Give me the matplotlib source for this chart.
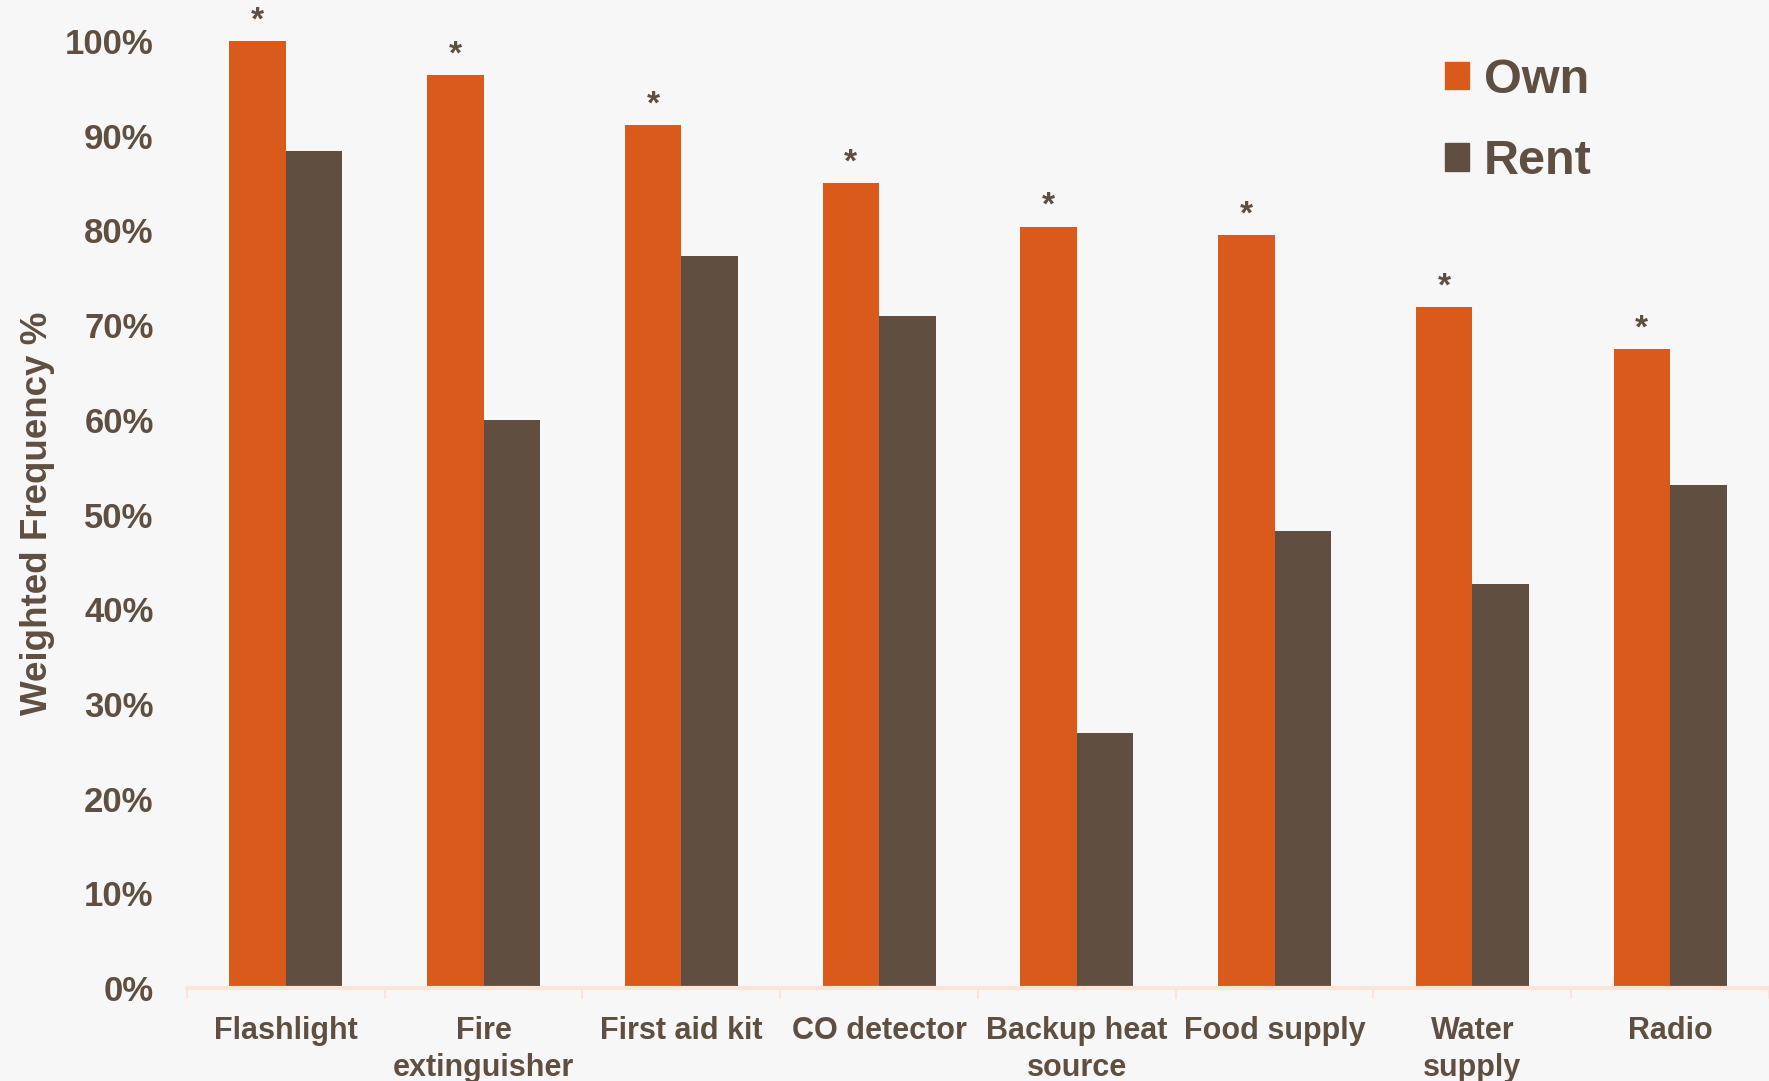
import matplotlib
matplotlib.use("Agg")
import matplotlib.pyplot as plt
from matplotlib.patches import Patch
import numpy as np

categories = ["Flashlight", "Fire\nextinguisher", "First aid kit", "CO detector",
              "Backup heat\nsource", "Food supply", "Water\nsupply", "Radio"]
own = [100.0, 96.4, 91.1, 85.0, 80.4, 79.5, 71.9, 67.5]
rent = [88.4, 60.0, 77.3, 71.0, 26.9, 48.3, 42.7, 53.1]
stars = ["*"] * 8

own_color = "#D95A1A"
rent_color = "#604F41"
text_color = "#5F4F41"
bg = "#F7F7F7"

plt.rcParams['font.family'] = ['Liberation Sans', 'DejaVu Sans']
plt.rcParams['font.weight'] = 'bold'

fig = plt.figure(figsize=(17.69, 10.81), dpi=100, facecolor=bg)
ax = fig.add_axes([0.1057, 0.086, 0.8943, 0.876])
ax.set_facecolor(bg)

x = np.arange(len(categories))
w = 0.2857
ax.bar(x - w / 2, own, w, color=own_color, label="Own", zorder=2)
ax.bar(x + w / 2, rent, w, color=rent_color, label="Rent", zorder=2)

for xi, v, s in zip(x, own, stars):
    ax.text(xi - w / 2, v + 0.5, s, ha="center", va="bottom", fontsize=24,
            color=text_color, clip_on=False)

ax.set_xlim(-0.5, len(categories) - 0.5)
ax.set_ylim(0, 100)
ax.set_yticks(np.arange(0, 101, 10))
ax.set_yticklabels([f"{v}%" for v in range(0, 101, 10)], fontsize=25, color=text_color)
ax.tick_params(axis="y", length=0, pad=24)

ax.set_xticks(x)
ax.set_xticklabels(categories, fontsize=22, color=text_color, linespacing=1.3)
ax.tick_params(axis="x", which="major", length=0, pad=20)
ax.set_xticks(np.arange(-0.5, len(categories), 1.0), minor=True)
ax.tick_params(axis="x", which="minor", length=8, width=1.5, color="#FCE4D6", direction="out")

for side in ["top", "right", "left"]:
    ax.spines[side].set_visible(False)
ax.spines["bottom"].set_color("#FCE4D6")
ax.spines["bottom"].set_linewidth(3)

fig.text(0.021, 0.525, "Weighted Frequency %", rotation=90, ha="center", va="center",
         fontsize=26.5, color=text_color)

handles = [Patch(color=own_color), Patch(color=rent_color)]
leg = fig.legend(handles, ["Own", "Rent"], loc="upper left", bbox_to_anchor=(0.803, 0.969),
                 frameon=False, fontsize=35, handlelength=0.5, handleheight=0.5,
                 handletextpad=0.3, labelspacing=0.75, borderpad=0)
for t in leg.get_texts():
    t.set_color(text_color)

fig.savefig("out.png", dpi=100, facecolor=bg)
